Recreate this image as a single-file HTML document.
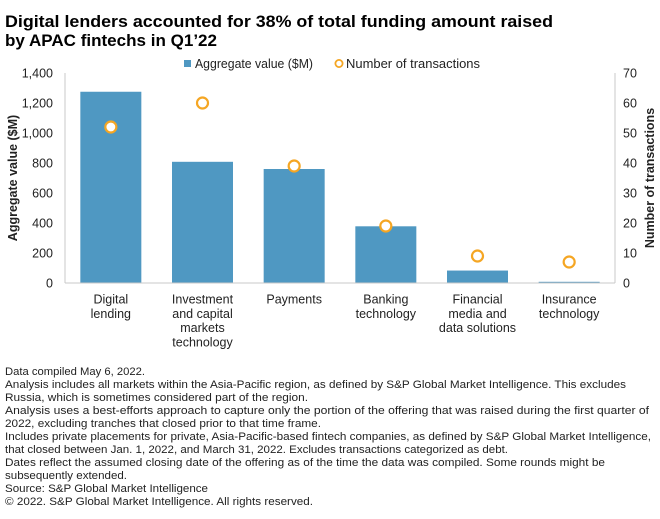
<!DOCTYPE html>
<html><head><meta charset="utf-8"><style>
html,body{margin:0;padding:0;background:#fff;}
svg{display:block;font-family:"Liberation Sans",sans-serif;}
</style></head><body>
<svg id="chart" width="660" height="519" viewBox="0 0 660 519">
<g font-weight="bold" font-size="17" fill="#000">
<text x="5" y="27" textLength="548" lengthAdjust="spacingAndGlyphs">Digital lenders accounted for 38% of total funding amount raised</text>
<text x="5" y="46" textLength="212" lengthAdjust="spacingAndGlyphs">by APAC fintechs in Q1’22</text>
</g>
<g font-size="12.5" fill="#222">
<rect x="184" y="60" width="7" height="7" fill="#4f98c2"/>
<text x="195" y="68" textLength="118" lengthAdjust="spacingAndGlyphs">Aggregate value ($M)</text>
<circle cx="339" cy="63.5" r="3.6" fill="#fff" stroke="#f5a623" stroke-width="1.8"/>
<text x="346" y="68" textLength="134" lengthAdjust="spacingAndGlyphs">Number of transactions</text>
</g>
<g id="axes"></g>
<g id="marks"></g>
<text transform="translate(17,178) rotate(-90)" text-anchor="middle" font-size="12.5" font-weight="bold" fill="#222">Aggregate value ($M)</text>
<text transform="translate(654,178) rotate(-90)" text-anchor="middle" font-size="12.5" font-weight="bold" fill="#222">Number of transactions</text>
<g font-size="11" fill="#222">
<text x="5" y="375" textLength="140" lengthAdjust="spacingAndGlyphs">Data compiled May 6, 2022.</text>
<text x="5" y="388" textLength="621" lengthAdjust="spacingAndGlyphs">Analysis includes all markets within the Asia-Pacific region, as defined by S&amp;P Global Market Intelligence. This excludes</text>
<text x="5" y="401" textLength="303" lengthAdjust="spacingAndGlyphs">Russia, which is sometimes considered part of the region.</text>
<text x="5" y="414" textLength="644" lengthAdjust="spacingAndGlyphs">Analysis uses a best-efforts approach to capture only the portion of the offering that was raised during the first quarter of</text>
<text x="5" y="427" textLength="316" lengthAdjust="spacingAndGlyphs">2022, excluding tranches that closed prior to that time frame.</text>
<text x="5" y="440" textLength="646" lengthAdjust="spacingAndGlyphs">Includes private placements for private, Asia-Pacific-based fintech companies, as defined by S&amp;P Global Market Intelligence,</text>
<text x="5" y="453" textLength="503" lengthAdjust="spacingAndGlyphs">that closed between Jan. 1, 2022, and March 31, 2022. Excludes transactions categorized as debt.</text>
<text x="5" y="466" textLength="600" lengthAdjust="spacingAndGlyphs">Dates reflect the assumed closing date of the offering as of the time the data was compiled. Some rounds might be</text>
<text x="5" y="479" textLength="122" lengthAdjust="spacingAndGlyphs">subsequently extended.</text>
<text x="5" y="492" textLength="203" lengthAdjust="spacingAndGlyphs">Source: S&amp;P Global Market Intelligence</text>
<text x="5" y="505" textLength="308" lengthAdjust="spacingAndGlyphs">© 2022. S&amp;P Global Market Intelligence. All rights reserved.</text>
</g>
</svg>
<script>
const categories = [["Digital","lending"],["Investment","and capital","markets","technology"],["Payments"],["Banking","technology"],["Financial","media and","data solutions"],["Insurance","technology"]];
const aggregateValues = [1275, 808, 760, 378, 83, 8];
const transactionCounts = [52, 60, 39, 19, 9, 7];
const leftTicks = [0, 200, 400, 600, 800, 1000, 1200, 1400];
const leftTickLabels = ["0","200","400","600","800","1,000","1,200","1,400"];
const rightTicks = [0, 10, 20, 30, 40, 50, 60, 70];

const NS = "http://www.w3.org/2000/svg";
const X0 = 65, X1 = 615, Y0 = 283, Y1 = 73;
const band = (X1 - X0) / categories.length;
function xCenter(i){ return X0 + band * (i + 0.5); }
function yLeft(v){ return Y0 - (v / 1400) * (Y0 - Y1); }
function yRight(v){ return Y0 - (v / 70) * (Y0 - Y1); }
function mk(tag, attrs, parent){ const e = document.createElementNS(NS, tag); for (const k in attrs) e.setAttribute(k, attrs[k]); parent.appendChild(e); return e; }

const axes = document.getElementById('axes');
const marks = document.getElementById('marks');
let l;
l = mk('line', {x1:X0, y1:Y1, x2:X0, y2:Y0, stroke:'#c8c8c8', 'stroke-width':1}, axes);


l = mk('line', {x1:X1, y1:Y1, x2:X1, y2:Y0, stroke:'#c8c8c8', 'stroke-width':1}, axes);



leftTicks.forEach((v, i) => {
  const t = mk('text', {x:53, y:yLeft(v) + 4.5, 'text-anchor':'end', 'font-size':12.5, fill:'#222'}, axes);
  t.textContent = leftTickLabels[i];
  
  
});
rightTicks.forEach(v => {
  const t = mk('text', {x:623, y:yRight(v) + 4.5, 'font-size':12.5, fill:'#222'}, axes);
  t.textContent = String(v);
  
  
});

aggregateValues.forEach((v, i) => {
  const bw = 61;
  const r = mk('rect', {x:xCenter(i) - bw/2, y:yLeft(v), width:bw, height:Y0 - yLeft(v), fill:'#4f98c2'}, marks);
  
  
});
l = mk('line', {x1:X0, y1:Y0, x2:X1, y2:Y0, stroke:'#c8c8c8', 'stroke-width':1}, marks);



transactionCounts.forEach((v, i) => {
  const c = mk('circle', {cx:xCenter(i), cy:yRight(v), r:5.5, fill:'#fff', stroke:'#f5a623', 'stroke-width':2.2}, marks);
  
  
});

categories.forEach((lines, i) => {
  lines.forEach((s, j) => {
    const t = mk('text', {x:xCenter(i), y:303.5 + j * 14.3, 'text-anchor':'middle', 'font-size':12.5, fill:'#222'}, axes);
    t.textContent = s;
    
    
  });
});
</script>
</body></html>
